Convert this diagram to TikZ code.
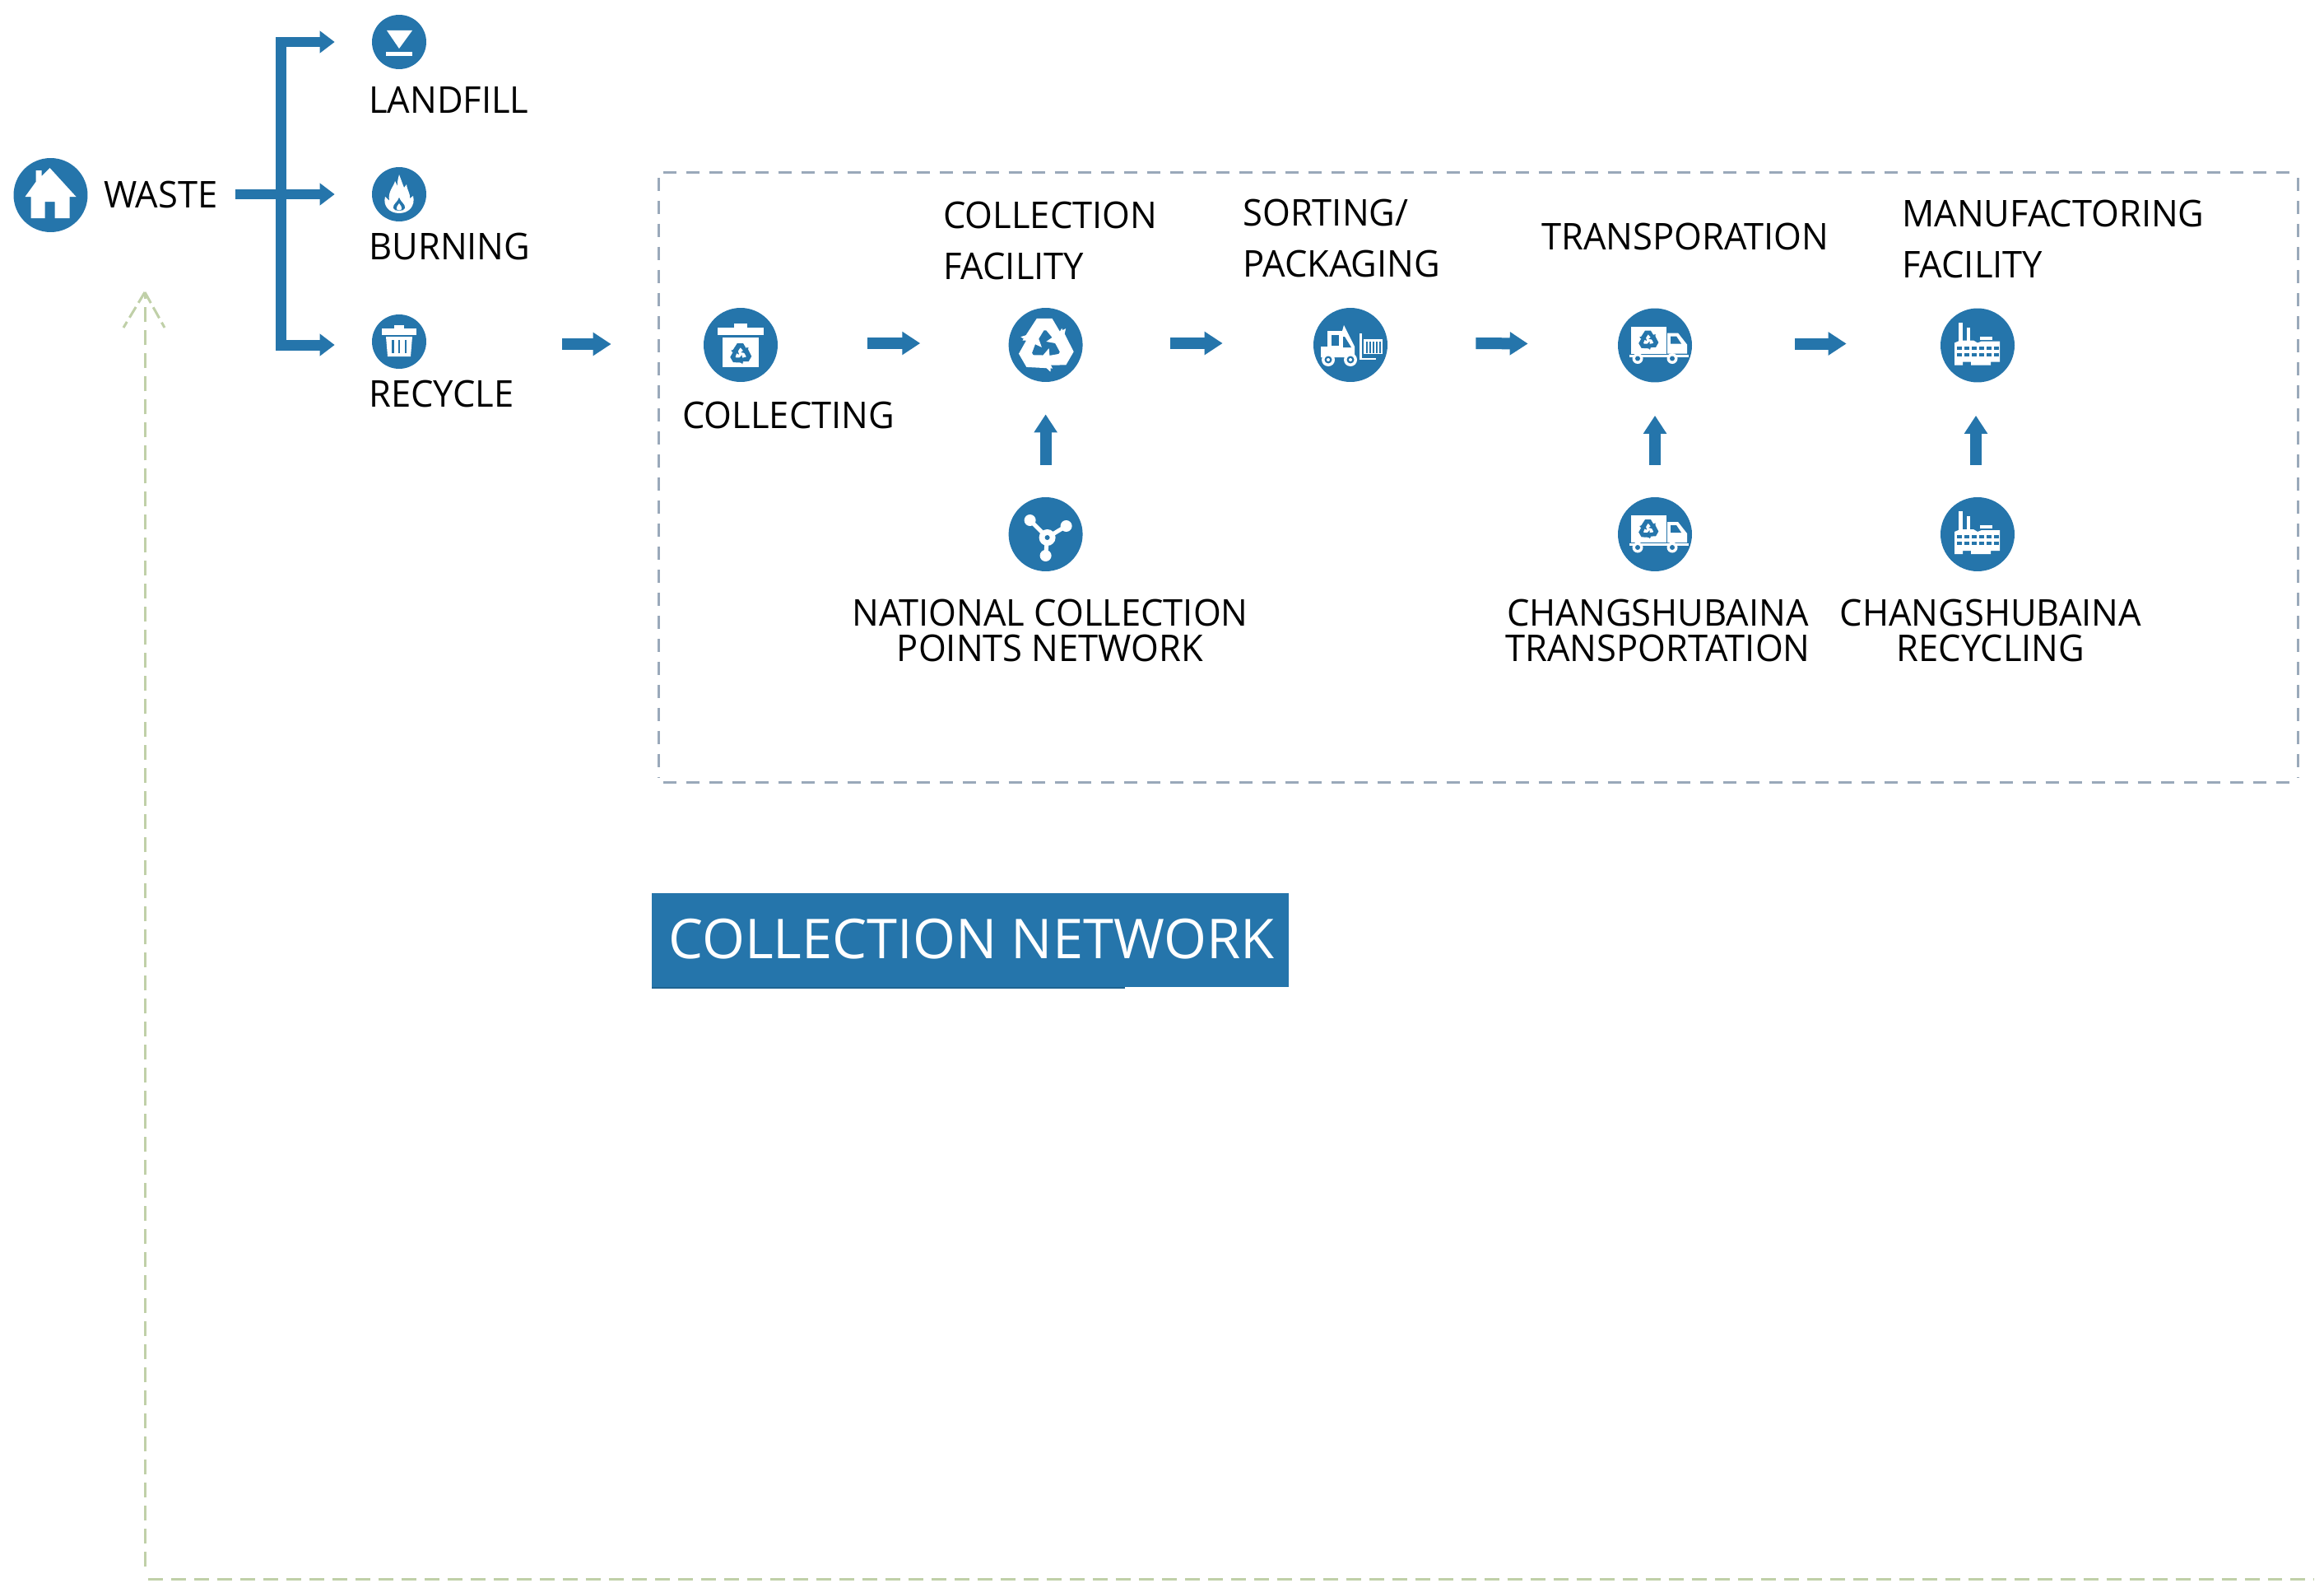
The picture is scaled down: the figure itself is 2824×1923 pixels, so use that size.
\documentclass[tikz,border=0pt]{standalone}
\usepackage{fontspec}
\setmainfont{Open Sans}[FakeStretch=0.97]
\newfontfamily\bannerfont{Open Sans}
\usetikzlibrary{arrows.meta,calc}
\definecolor{brandblue}{HTML}{2575AB}
\definecolor{boxgray}{HTML}{9AA9BA}
\definecolor{retgreen}{HTML}{C0D0A8}
\newcommand{\recyc}[4]{%
  \foreach \a in {0,120,240}{%
    \fill[#4,shift={(#1,#2)},rotate=\a,scale=#3]
      (-0.78,-0.18) -- (-0.30,-0.92) -- (0.22,-0.92) -- (0.48,-0.48) -- (0.68,-0.58)
      -- (0.56,-0.04) -- (0.02,-0.14) -- (0.22,-0.28) -- (0.02,-0.52) -- (-0.06,-0.52) -- (-0.28,-0.16) -- cycle;
  }}
\tikzset{
  x=0.02cm, y=-0.02cm,
  bigdot/.style={circle,fill=brandblue,draw=none,inner sep=0pt,minimum size=1.8cm},
  smalldot/.style={circle,fill=brandblue,draw=none,inner sep=0pt,minimum size=1.32cm},
  lbl/.style={inner sep=0pt,text=black,font=\fontsize{25.5pt}{25.5pt}\selectfont},
  lblwide/.style={inner sep=0pt,text=black,align=left,font=\fontsize{25.5pt}{35.2pt}\selectfont},
  lblmid/.style={inner sep=0pt,text=black,align=center,font=\fontsize{25.5pt}{24.5pt}\selectfont},
  bigarrow/.style={draw=brandblue,line width=0.28cm,-{Triangle[length=0.44cm,width=0.54cm]}},
  treearrow/.style={draw=brandblue,line width=0.26cm,line join=miter,-{Triangle[length=0.36cm,width=0.52cm]}},
  boxline/.style={draw=boxgray,line width=0.06cm,dash pattern=on 0.32cm off 0.24cm},
  retline/.style={draw=retgreen,line width=0.06cm,dash pattern=on 0.36cm off 0.2cm},
  wf/.style={fill=white,draw=none},
  bf/.style={fill=brandblue,draw=none},
  iconhouse/.pic={
    \fill[wf] (-1,-33) -- (-11,-23) -- (-11,-30) -- (-18,-30) -- (-18,-16) -- (-31,2) -- (-24,2) -- (-24,28) -- (-7,28) -- (-7,8) -- (5,8) -- (5,28) -- (23,28) -- (23,2) -- (31,2) -- cycle;
  },
  iconlandfill/.pic={
    \fill[wf] (-15,-14) -- (16,-14) -- (0,8) -- cycle;
    \fill[wf] (-16,12) rectangle (16,17);
  },
  iconflame/.pic={
    \fill[wf] (0,23) .. controls (-12,23) and (-20,14) .. (-17,3) .. controls (-15,6) .. (-12,8) .. controls (-14,-4) and (-6,-10) .. (-5,-16) .. controls (-3,-13) .. (-2,-10) .. controls (-2,-16) .. (0,-24) .. controls (3,-16) and (4,-13) .. (6,-8) .. controls (8,-10) .. (9,-12) .. controls (10,-4) and (14,0) .. (13,5) .. controls (15,4) .. (17,2) .. controls (20,14) and (12,23) .. (0,23) -- cycle;
    \fill[bf] (0,4) .. controls (-2,10) and (-8,12) .. (-7,17) .. controls (-6,21) and (6,21) .. (7,17) .. controls (8,12) and (2,10) .. (0,4) -- cycle;
    \fill[wf] (0,11) .. controls (-2,14) and (-4,16) .. (-3,18) .. controls (-2,20) and (2,20) .. (3,18) .. controls (4,16) and (2,14) .. (0,11) -- cycle;
  },
  icontrash/.pic={
    \fill[wf] (-6,-20) rectangle (6,-15);
    \fill[wf] (-21,-16) rectangle (21,-8);
    \fill[wf] (-16,-6) -- (16,-6) -- (14,18) -- (-14,18) -- cycle;
    \fill[bf] (-9,-2) rectangle (-6.5,14);
    \fill[bf] (-1.2,-2) rectangle (1.2,14);
    \fill[bf] (6.5,-2) rectangle (9,14);
  },
  iconbin/.pic={
    \fill[wf] (-8,-26) rectangle (8,-20);
    \fill[wf] (-28,-21) rectangle (28,-12);
    \fill[wf] (-22,-9) rectangle (22,27);
    \recyc{0}{11}{14}{bf}
  },
  iconrecycle/.pic={
    \recyc{0}{1}{36}{wf}
  },
  iconnet/.pic={
    \draw[white,line width=0.1cm] (-19,-17) -- (2,4) -- (25,-10) (2,4) -- (0,26);
    \fill[wf] (2,4) circle (10);
    \fill[wf] (-19,-17) circle (7);
    \fill[wf] (25,-10) circle (7);
    \fill[wf] (0,26) circle (7);
    \fill[bf] (2,4) circle (3);
  },
  iconlift/.pic={
    \fill[wf] (-28,-17) -- (-10,-17) -- (-8,-24) -- (5,2) -- (5,15) -- (-36,15) -- (-36,2) -- (-28,2) -- cycle;
    \fill[bf] (-23,-12) rectangle (-14,1);
    \fill[bf] (-9,-10) -- (-7,-10) -- (1,3) -- (-9,3) -- cycle;
    \foreach \wx in {-27,0}{
      \fill[wf] (\wx,18) circle (8);
      \fill[bf] (\wx,18) circle (4.5);
      \fill[wf] (\wx,18) circle (2);
    }
    \fill[wf] (11,-14) rectangle (14,18);
    \fill[wf] (11,15.5) rectangle (31,18);
    \fill[wf] (16,-7) rectangle (39,11);
    \foreach \sx in {19,23,27,31,35}{\fill[bf] (\sx,-4) rectangle (\sx+1.5,10);}
  },
  icontruck/.pic={
    \fill[wf] (-29,-23) rectangle (14,10);
    \recyc{-8}{-6}{13}{bf}
    \fill[wf] (15,-15) -- (28,-15) -- (39,-1) -- (39,10) -- (15,10) -- cycle;
    \fill[bf] (19,-11) -- (26,-11) -- (32,-2) -- (19,-2) -- cycle;
    \fill[wf] (-31,11) rectangle (41,14);
    \foreach \wx in {-21,21}{
      \fill[wf] (\wx,16) circle (6.5);
      \fill[bf] (\wx,16) circle (3);
    }
  },
  iconfactory/.pic={
    \fill[wf] (-23,-28) rectangle (-18,-3);
    \fill[wf] (-13,-22) rectangle (-9,-3);
    \fill[wf] (3,-11) rectangle (18,-7);
    \fill[wf] (-28,-3) -- (-21,-6) -- (-5,-6) -- (0,-3) -- (5,-5) -- (27,-5) -- (27,20) -- (16,20) -- (16,24) -- (-8,24) -- (-8,20) -- (-18,20) -- (-18,24) -- (-28,24) -- cycle;
    \foreach \wx in {-25,-16,-7,2,11,20}{
      \fill[bf] (\wx,1) rectangle (\wx+6,5);
      \fill[bf] (\wx,9) rectangle (\wx+6,13);
    }
  },
}
\begin{document}
\begin{tikzpicture}
\useasboundingbox (0,0) rectangle (2824,1923);
\fill[white] (0,0) rectangle (2824,1923);

% icons
\node[bigdot] (home) at (61.5,237) {};
\pic at (home.center) {iconhouse};
\node[smalldot] (lf) at (485,51) {};
\pic at (lf.center) {iconlandfill};
\node[smalldot] (bu) at (485,236) {};
\pic at (bu.center) {iconflame};
\node[smalldot] (re) at (485,415) {};
\pic at (re.center) {icontrash};
\node[bigdot] (coll) at (900,419) {};
\pic at (coll.center) {iconbin};
\node[bigdot] (fac) at (1270.6,419) {};
\pic at (fac.center) {iconrecycle};
\node[bigdot] (sort) at (1641,419) {};
\pic at (sort.center) {iconlift};
\node[bigdot] (trans) at (2011,419.5) {};
\pic at (trans.center) {icontruck};
\node[bigdot] (mfg) at (2403,419.5) {};
\pic at (mfg.center) {iconfactory};
\node[bigdot] (nat) at (1270.6,649) {};
\pic at (nat.center) {iconnet};
\node[bigdot] (chtr) at (2011,649) {};
\pic at (chtr.center) {icontruck};
\node[bigdot] (chre) at (2403,649) {};
\pic at (chre.center) {iconfactory};

% labels
\node[lbl,anchor=base west] (twaste) at (126,252) {WASTE};
\node[lbl,anchor=base west] (tlf) at (448,137) {LANDFILL};
\node[lbl,anchor=base west] (tbu) at (448,315) {BURNING};
\node[lbl,anchor=base west] (tre) at (448,494) {RECYCLE};
\node[lbl,anchor=base west] (tcoll) at (829,520.5) {COLLECTING};
\node[lblwide,anchor=south west] (tfac) at (1146,340) {COLLECTION\\FACILITY};
\node[lblwide,anchor=south west] (tsort) at (1510,337) {SORTING/\\PACKAGING};
\node[lbl,anchor=base west] (ttrans) at (1873,303) {TRANSPORATION};
\node[lblwide,anchor=south west] (tmfg) at (2311,338) {MANUFACTORING\\FACILITY};
\node[lblmid,anchor=south] (tnat) at (1276,804) {NATIONAL COLLECTION\\POINTS NETWORK};
\node[lblmid,anchor=south] (tchtr) at (2014.5,804) {CHANGSHUBAINA\\TRANSPORTATION};
\node[lblmid,anchor=south] (tchre) at (2419,804) {CHANGSHUBAINA\\RECYCLING};

% waste tree
\coordinate (trunk) at (341,236);
\draw[treearrow] (trunk) |- ([xshift=-0.9cm]lf.west);
\draw[treearrow] (trunk) |- ([shift={(-45,4)}]re.west);
\draw[treearrow] ([xshift=3.58cm]home.east |- bu.west) -- ([xshift=-0.9cm]bu.west);

% flow arrows
\draw[bigarrow] ([shift={(165,3)}]re.east) -- ([shift={(-112,-1)}]coll.west);
\draw[bigarrow] ([shift={(109,-2)}]coll.east) -- ([shift={(-107,-2)}]fac.west);
\draw[bigarrow] ([shift={(106,-2)}]fac.east) -- ([shift={(-110,-2)}]sort.west);
\draw[bigarrow] ([shift={(107,-2)}]sort.east) -- ([shift={(-109,-2)}]trans.west);
\draw[bigarrow] ([shift={(125,-2)}]trans.east) -- ([shift={(-114,-2)}]mfg.west);
\draw[bigarrow] ([shift={(0,-39)}]nat.north) -- ([shift={(0,39)}]fac.south);
\draw[bigarrow] ([shift={(0,-39)}]chtr.north) -- ([shift={(0,40)}]trans.south);
\draw[bigarrow] ([shift={(-2,-39)}]chre.north) -- ([shift={(-2,40)}]mfg.south);

% dashed container
\draw[boxline] (806,209) -- (2786,209);
\draw[boxline] (806,950) -- (2786,950);
\draw[boxline] (800,216) -- (800,945);
\draw[boxline] (2792,216) -- (2792,945);

% banner
\fill[brandblue!85!black] (792,1190) rectangle (1367,1201);
\node[fill=brandblue,inner sep=0pt,minimum width=15.48cm,minimum height=2.28cm,anchor=north west] (banner) at (792,1085) {};
\node[anchor=base,inner sep=0pt,text=white,font=\bannerfont\fontsize{38pt}{38pt}\selectfont] (tbanner) at (1180.5,1164) {COLLECTION NETWORK};

% green return line
\coordinate (gtip) at (176,355);
\coordinate (gbl) at (150,398);
\coordinate (gbr) at (200,398);
\coordinate (gcorner) at (176,1903);
\coordinate (gbot) at (180,1918);
\coordinate (gend) at (2812,1918);
\draw[retline] (gcorner) -- (gtip);
\draw[retline,dash pattern=on 0.3cm off 0.12cm] (gtip) -- (gbl);
\draw[retline,dash pattern=on 0.3cm off 0.12cm] (gtip) -- (gbr);
\draw[retline] (gbot) -- (gend);
\end{tikzpicture}
\end{document}
